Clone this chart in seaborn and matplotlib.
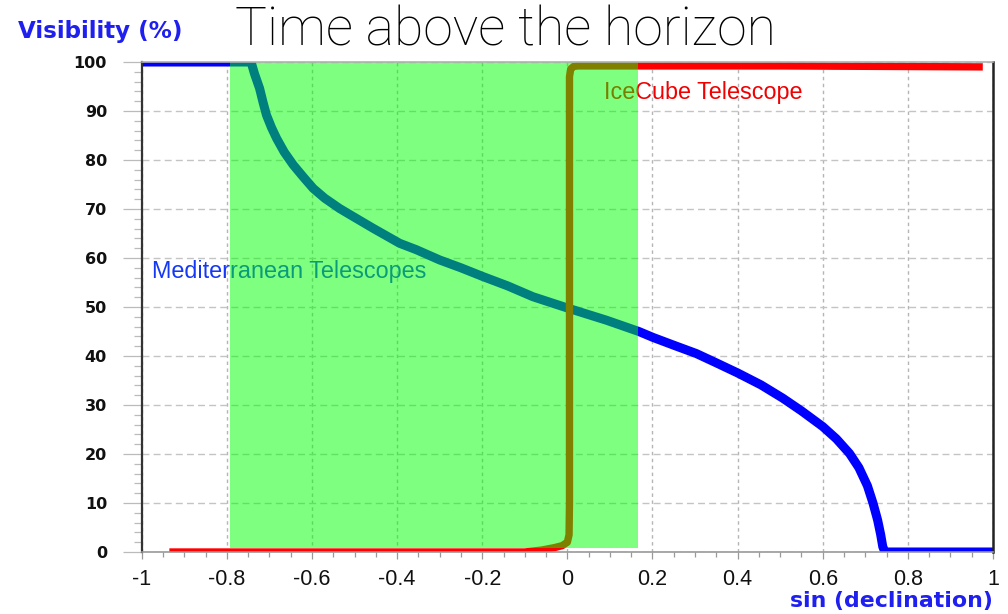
import matplotlib
matplotlib.use("Agg")
import matplotlib.pyplot as plt
from matplotlib.ticker import MultipleLocator
import pandas as pd
import seaborn as sns

# Mediterranean telescopes: visibility (%) vs sin(declination)
med_sin_dec = [-1.0, -0.743, -0.735, -0.723, -0.715, -0.707, -0.695, -0.683,
               -0.665, -0.644, -0.620, -0.597, -0.570, -0.535, -0.500,
               -0.457, -0.394, -0.355, -0.300, -0.250, -0.198, -0.140,
               -0.081, 0.0, 0.092, 0.168, 0.201, 0.250, 0.303, 0.350,
               0.401, 0.455, 0.506, 0.550, 0.600, 0.632, 0.663, 0.685,
               0.705, 0.718, 0.729, 0.736, 0.741, 0.746, 1.0]
med_visibility = [100, 100, 97.6, 94.6, 91.8, 89.2, 86.6, 84.4,
                  81.6, 79.0, 76.5, 74.2, 72.2, 70.1, 68.3,
                  66.1, 63.0, 61.7, 59.6, 58.0, 56.2, 54.3,
                  52.1, 49.8, 47.3, 45.0, 43.8, 42.2, 40.5, 38.6,
                  36.5, 34.1, 31.4, 28.8, 25.6, 23.1, 20.1, 17.2,
                  13.5, 10.0, 6.5, 3.6, 1.1, 0.0, 0.0]

# IceCube telescope
ice_sin_dec = [-0.935, -0.10, -0.06, -0.03, -0.012, 0.0, 0.004, 0.005,
               0.005, 0.008, 0.015, 0.025, 0.5, 0.976]
ice_visibility = [0.0, 0.0, 0.4, 0.9, 1.3, 2.0, 3.5, 10.0,
                  97.0, 98.6, 99.1, 99.2, 99.2, 99.0]

# Sky region seen by both (shaded band)
band_sin_dec = [-0.793, 0.165]
band_visibility = [0.75, 100]

x_ticks = [-1, -0.8, -0.6, -0.4, -0.2, 0, 0.2, 0.4, 0.6, 0.8, 1]
x_tick_labels = ["-1", "-0.8", "-0.6", "-0.4", "-0.2", "0", "0.2", "0.4", "0.6", "0.8", "1"]
y_ticks = [0, 10, 20, 30, 40, 50, 60, 70, 80, 90, 100]

med = pd.DataFrame({"sin_dec": med_sin_dec, "visibility": med_visibility})
ice = pd.DataFrame({"sin_dec": ice_sin_dec, "visibility": ice_visibility})

sns.set_style("white")
plt.rcParams["font.family"] = ["DejaVu Sans"]

fig = plt.figure(figsize=(10.08, 6.14), dpi=100)
ax = fig.add_axes([141.7 / 1008, 1 - 552 / 614, (993 - 141.7) / 1008, (552 - 62) / 614])

blue = "#0000ff"
red = "#ff0000"

sns.lineplot(data=med, x="sin_dec", y="visibility", sort=False, estimator=None,
             color=blue, linewidth=6.5, ax=ax, zorder=2,
             solid_capstyle="butt", solid_joinstyle="round")
sns.lineplot(data=ice, x="sin_dec", y="visibility", sort=False, estimator=None,
             color=red, linewidth=5.3, ax=ax, zorder=2.1,
             solid_capstyle="butt", solid_joinstyle="round")

ax.text(-0.976, 57.2, "Mediterranean Telescopes", color="#1538f5", fontsize=16.8,
        family="Liberation Sans", va="center", ha="left", zorder=2.2)
ax.text(0.085, 93.7, "IceCube Telescope", color="#f00000", fontsize=16.8,
        family="Liberation Sans", va="center", ha="left", zorder=2.2)

# translucent band drawn over curves and labels
ax.fill_between(band_sin_dec, band_visibility[0], band_visibility[1],
                color="#00ff00", alpha=0.5, linewidth=0, zorder=3)

ax.set_xlim(-1, 1)
ax.set_ylim(0, 100)
ax.set_xticks(x_ticks)
ax.set_xticklabels(x_tick_labels)
ax.set_yticks(y_ticks)
ax.xaxis.set_minor_locator(MultipleLocator(0.05))
ax.yaxis.set_minor_locator(MultipleLocator(2))
ax.set_xlabel("")
ax.set_ylabel("")

ax.xaxis.grid(True, which="major", color="#b5b5b5", linestyle=(0, (2.5, 2.5)), linewidth=1.0)
ax.yaxis.grid(True, which="major", color="#c4c4c4", linestyle=(0, (5, 3)), linewidth=1.0)
ax.set_axisbelow(True)

ax.tick_params(axis="x", which="major", direction="out", length=5, width=0.9,
               color="#999999", pad=7, labelsize=15.5, bottom=True)
ax.tick_params(axis="x", which="minor", direction="out", length=3.5, width=0.9,
               color="#999999", bottom=True)
ax.tick_params(axis="y", which="major", direction="out", length=14, width=0.9,
               color="#bbbbbb", pad=11, labelsize=11.5, left=True)
ax.tick_params(axis="y", which="minor", direction="out", length=6, width=0.9,
               color="#bbbbbb", left=True)
for lab in ax.get_xticklabels():
    lab.set_family("Liberation Sans")
    lab.set_color("#111111")
for lab in ax.get_yticklabels():
    lab.set_fontweight("bold")
    lab.set_color("#111111")

ax.spines["left"].set_color("#333333")
ax.spines["left"].set_linewidth(1.6)
ax.spines["right"].set_color("#222222")
ax.spines["right"].set_linewidth(1.8)
ax.spines["top"].set_color("#b0b0b0")
ax.spines["top"].set_linewidth(1.2)
ax.spines["bottom"].set_color("#999999")
ax.spines["bottom"].set_linewidth(1.2)
for s in ax.spines.values():
    s.set_visible(True)
    s.set_zorder(4)

fig.text(18 / 1008, 1 - 38 / 614, "Visibility (%)", color="#1f1ff0", fontsize=16.6,
         fontweight="bold", ha="left", va="baseline")
fig.text(993 / 1008, 1 - 607 / 614, "sin (declination)", color="#1f1ff0", fontsize=15.8,
         fontweight="bold", ha="right", va="baseline")
fig.text(505 / 1008, 1 - 45 / 614, "Time above the horizon", color="black", fontsize=38.5,
         family="Roboto", fontweight="light", ha="center", va="baseline")

fig.savefig("out.png", dpi=100)
